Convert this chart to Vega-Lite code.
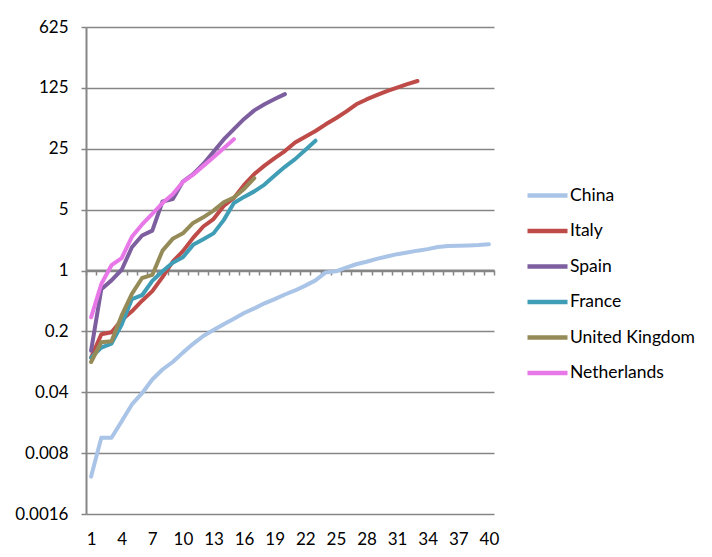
{
  "$schema": "https://vega.github.io/schema/vega-lite/v6.json",
  "autosize": "none",
  "width": 408,
  "height": 487,
  "padding": {"left": 86, "top": 27, "right": 218, "bottom": 43},
  "background": "white",
  "config": {"view": {"stroke": null}, "font": "Lato"},
  "data": {"values": [
    {"country":"China","day":1,"value":0.0043},{"country":"China","day":2,"value":0.012},{"country":"China","day":3,"value":0.012},{"country":"China","day":4,"value":0.0186},{"country":"China","day":5,"value":0.029},{"country":"China","day":6,"value":0.039},{"country":"China","day":7,"value":0.056},{"country":"China","day":8,"value":0.073},{"country":"China","day":9,"value":0.089},{"country":"China","day":10,"value":0.114},
    {"country":"China","day":11,"value":0.144},{"country":"China","day":12,"value":0.177},{"country":"China","day":13,"value":0.207},{"country":"China","day":14,"value":0.241},{"country":"China","day":15,"value":0.28},{"country":"China","day":16,"value":0.325},{"country":"China","day":17,"value":0.367},{"country":"China","day":18,"value":0.42},{"country":"China","day":19,"value":0.47},{"country":"China","day":20,"value":0.53},
    {"country":"China","day":21,"value":0.59},{"country":"China","day":22,"value":0.67},{"country":"China","day":23,"value":0.77},{"country":"China","day":24,"value":0.95},{"country":"China","day":25,"value":0.98},{"country":"China","day":26,"value":1.08},{"country":"China","day":27,"value":1.18},{"country":"China","day":28,"value":1.26},{"country":"China","day":29,"value":1.36},{"country":"China","day":30,"value":1.45},
    {"country":"China","day":31,"value":1.54},{"country":"China","day":32,"value":1.61},{"country":"China","day":33,"value":1.69},{"country":"China","day":34,"value":1.76},{"country":"China","day":35,"value":1.86},{"country":"China","day":36,"value":1.91},{"country":"China","day":37,"value":1.93},{"country":"China","day":38,"value":1.94},{"country":"China","day":39,"value":1.96},{"country":"China","day":40,"value":2.0},
    {"country":"Italy","day":1,"value":0.1},{"country":"Italy","day":2,"value":0.185},{"country":"Italy","day":3,"value":0.195},{"country":"Italy","day":4,"value":0.27},{"country":"Italy","day":5,"value":0.34},{"country":"Italy","day":6,"value":0.45},{"country":"Italy","day":7,"value":0.58},{"country":"Italy","day":8,"value":0.84},{"country":"Italy","day":9,"value":1.26},{"country":"Italy","day":10,"value":1.67},
    {"country":"Italy","day":11,"value":2.37},{"country":"Italy","day":12,"value":3.2},{"country":"Italy","day":13,"value":3.9},{"country":"Italy","day":14,"value":5.5},{"country":"Italy","day":15,"value":6.8},{"country":"Italy","day":16,"value":9.6},{"country":"Italy","day":17,"value":12.8},{"country":"Italy","day":18,"value":16},{"country":"Italy","day":19,"value":19.5},{"country":"Italy","day":20,"value":23.5},
    {"country":"Italy","day":21,"value":29.5},{"country":"Italy","day":22,"value":34.3},{"country":"Italy","day":23,"value":40},{"country":"Italy","day":24,"value":47.7},{"country":"Italy","day":25,"value":56},{"country":"Italy","day":26,"value":66.8},{"country":"Italy","day":27,"value":81},{"country":"Italy","day":28,"value":92},{"country":"Italy","day":29,"value":103},{"country":"Italy","day":30,"value":115},
    {"country":"Italy","day":31,"value":126},{"country":"Italy","day":32,"value":138},{"country":"Italy","day":33,"value":150},
    {"country":"Spain","day":1,"value":0.12},{"country":"Spain","day":2,"value":0.61},{"country":"Spain","day":3,"value":0.77},{"country":"Spain","day":4,"value":1.02},{"country":"Spain","day":5,"value":1.85},{"country":"Spain","day":6,"value":2.52},{"country":"Spain","day":7,"value":2.87},{"country":"Spain","day":8,"value":6.2},{"country":"Spain","day":9,"value":6.6},{"country":"Spain","day":10,"value":10.5},
    {"country":"Spain","day":11,"value":12.8},{"country":"Spain","day":12,"value":16.7},{"country":"Spain","day":13,"value":23},{"country":"Spain","day":14,"value":32},{"country":"Spain","day":15,"value":42},{"country":"Spain","day":16,"value":55},{"country":"Spain","day":17,"value":69},{"country":"Spain","day":18,"value":81},{"country":"Spain","day":19,"value":93},{"country":"Spain","day":20,"value":106},
    {"country":"France","day":1,"value":0.1},{"country":"France","day":2,"value":0.13},{"country":"France","day":3,"value":0.145},{"country":"France","day":4,"value":0.24},{"country":"France","day":5,"value":0.47},{"country":"France","day":6,"value":0.52},{"country":"France","day":7,"value":0.76},{"country":"France","day":8,"value":0.98},{"country":"France","day":9,"value":1.23},{"country":"France","day":10,"value":1.42},
    {"country":"France","day":11,"value":1.97},{"country":"France","day":12,"value":2.28},{"country":"France","day":13,"value":2.67},{"country":"France","day":14,"value":3.79},{"country":"France","day":15,"value":5.95},{"country":"France","day":16,"value":7.0},{"country":"France","day":17,"value":8.1},{"country":"France","day":18,"value":9.7},{"country":"France","day":19,"value":12.3},{"country":"France","day":20,"value":15.5},
    {"country":"France","day":21,"value":19},{"country":"France","day":22,"value":24.2},{"country":"France","day":23,"value":30.9},
    {"country":"United Kingdom","day":1,"value":0.089},{"country":"United Kingdom","day":2,"value":0.15},{"country":"United Kingdom","day":3,"value":0.154},{"country":"United Kingdom","day":4,"value":0.305},{"country":"United Kingdom","day":5,"value":0.54},{"country":"United Kingdom","day":6,"value":0.82},{"country":"United Kingdom","day":7,"value":0.89},{"country":"United Kingdom","day":8,"value":1.69},{"country":"United Kingdom","day":9,"value":2.31},{"country":"United Kingdom","day":10,"value":2.67},
    {"country":"United Kingdom","day":11,"value":3.52},{"country":"United Kingdom","day":12,"value":4.08},{"country":"United Kingdom","day":13,"value":4.87},{"country":"United Kingdom","day":14,"value":6.07},{"country":"United Kingdom","day":15,"value":6.9},{"country":"United Kingdom","day":16,"value":8.65},{"country":"United Kingdom","day":17,"value":11.5},
    {"country":"Netherlands","day":1,"value":0.29},{"country":"Netherlands","day":2,"value":0.7},{"country":"Netherlands","day":3,"value":1.15},{"country":"Netherlands","day":4,"value":1.39},{"country":"Netherlands","day":5,"value":2.44},{"country":"Netherlands","day":6,"value":3.38},{"country":"Netherlands","day":7,"value":4.47},{"country":"Netherlands","day":8,"value":5.95},{"country":"Netherlands","day":9,"value":7.5},{"country":"Netherlands","day":10,"value":10.4},
    {"country":"Netherlands","day":11,"value":12.6},{"country":"Netherlands","day":12,"value":15.9},{"country":"Netherlands","day":13,"value":20},{"country":"Netherlands","day":14,"value":25.4},{"country":"Netherlands","day":15,"value":32.2}
  ]},
  "resolve": {"axis": {"x": "independent"}},
  "layer": [
    {
      "mark": {"type": "rule", "color": "#868686", "strokeWidth": 0},
      "encoding": {
        "x": {"datum": 0.5, "type": "quantitative", "scale": {"type": "linear", "domain": [0.5, 40.5], "nice": false, "zero": false},
          "axis": {"orient": "bottom", "offset": -244, "title": null, "labels": false, "grid": false, "domain": true, "domainColor": "#868686", "domainWidth": 2, "ticks": true, "tickSize": 5, "tickColor": "#868686", "tickWidth": 1.5,
            "values": [0.5,1.5,2.5,3.5,4.5,5.5,6.5,7.5,8.5,9.5,10.5,11.5,12.5,13.5,14.5,15.5,16.5,17.5,18.5,19.5,20.5,21.5,22.5,23.5,24.5,25.5,26.5,27.5,28.5,29.5,30.5,31.5,32.5,33.5,34.5,35.5,36.5,37.5,38.5,39.5,40.5]}},
        "y": {"datum": 1, "type": "quantitative"}
      }
    },
    {
      "mark": {"type": "line", "strokeWidth": 4, "strokeCap": "round", "strokeJoin": "round"},
      "encoding": {
        "x": {"field": "day", "type": "quantitative",
          "axis": {"orient": "bottom", "title": null, "grid": false, "domain": false, "ticks": false, "labelPadding": 17, "labelFontSize": 17, "labelColor": "#000000", "labelFont": "Lato", "labelFlush": false, "labelOverlap": false,
            "values": [1,4,7,10,13,16,19,22,25,28,31,34,37,40]}},
        "y": {"field": "value", "type": "quantitative",
          "scale": {"type": "log", "base": 5, "domain": [0.0016, 625], "nice": false},
          "axis": {"title": null, "values": [0.0016, 0.008, 0.04, 0.2, 1, 5, 25, 125, 625], "format": "~g", "grid": true, "gridColor": "#868686", "gridWidth": 1.5, "domain": true, "domainColor": "#868686", "domainWidth": 2, "ticks": true, "tickSize": 5, "tickColor": "#868686", "tickWidth": 1.5, "labelPadding": 13, "labelFontSize": 17, "labelColor": "#000000", "labelFont": "Lato", "labelFlush": false}},
        "color": {"field": "country", "type": "nominal",
          "scale": {"domain": ["China", "Italy", "Spain", "France", "United Kingdom", "Netherlands"], "range": ["#a9c4e6", "#be4b48", "#7d5fa0", "#3f9db6", "#958b58", "#e878e8"]},
          "legend": {"title": null, "orient": "none", "legendX": 439, "legendY": 146, "symbolType": "stroke", "symbolSize": 1600, "symbolStrokeWidth": 4.5, "labelFontSize": 17.5, "labelFont": "Lato", "labelColor": "#000000", "labelOffset": 0, "rowPadding": 3.5, "labelLimit": 300}}
      }
    }
  ]
}
